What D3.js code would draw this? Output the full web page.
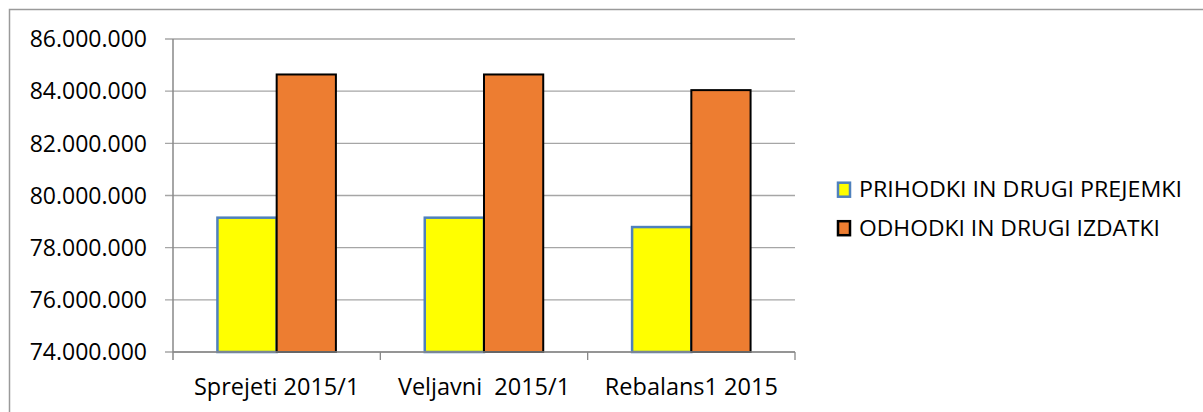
<!DOCTYPE html>
<html>
<head>
<meta charset="utf-8">
<script src="https://cdn.jsdelivr.net/npm/d3@7"></script>
<style>
  html, body { margin: 0; padding: 0; background: #fff; }
  svg { display: block; }
  text { font-family: "Open Sans", "Noto Sans", sans-serif; fill: #000; }
</style>
</head>
<body>
<svg id="chart" width="1203" height="412"></svg>
<script>
const categories = ["Sprejeti 2015/1", "Veljavni  2015/1", "Rebalans1 2015"];
const seriesNames = ["PRIHODKI IN DRUGI PREJEMKI", "ODHODKI IN DRUGI IZDATKI"];
const prihodki = [79150000, 79150000, 78790000];
const odhodki = [84640000, 84640000, 84040000];
const yTicks = [74000000, 76000000, 78000000, 80000000, 82000000, 84000000, 86000000];

const fills = ["#FFFF00", "#ED7D31"];
const strokes = ["#4F81BD", "#000000"];

const svg = d3.select("#chart");
const plot = { left: 173, right: 795, top: 39, bottom: 352 };

// outer frame (left + top)
svg.append("path")
  .attr("d", "M9.5,412 L9.5,9.5 L1203,9.5")
  .attr("fill", "none").attr("stroke", "#9a9a9a").attr("stroke-width", 1.5);

const x = d3.scaleBand().domain(categories).range([plot.left, plot.right]).paddingInner(0).paddingOuter(0);
const y = d3.scaleLinear().domain([74000000, 86000000]).range([plot.bottom, plot.top]);

const fmt = v => d3.format(",")(v).replace(/,/g, ".");

// gridlines + y tick marks
svg.append("g").selectAll("line").data(yTicks).join("line")
  .attr("x1", plot.left - 8).attr("x2", plot.right)
  .attr("y1", d => y(d)).attr("y2", d => y(d))
  .attr("stroke", "#a6a6a6").attr("stroke-width", 1.3);

// y tick labels
svg.append("g").selectAll("text").data(yTicks).join("text")
  .attr("x", 147).attr("y", d => y(d) + 8.3)
  .attr("text-anchor", "end")
  .style("font-size", "23px")
  .text(fmt);

// bars
const barW = x.bandwidth() / 3.5;
const off = (x.bandwidth() - 2 * barW) / 2;
const series = [prihodki, odhodki];
series.forEach((vals, si) => {
  svg.append("g").selectAll("rect").data(vals).join("rect")
    .attr("x", (d, i) => x(categories[i]) + off + si * barW)
    .attr("y", d => y(d))
    .attr("width", barW)
    .attr("height", d => y.range()[0] - y(d))
    .attr("fill", fills[si])
    .attr("stroke", strokes[si])
    .attr("stroke-width", si === 0 ? 2.5 : 2);
});

// x axis line and category ticks
svg.append("line")
  .attr("x1", plot.left).attr("x2", plot.right)
  .attr("y1", plot.bottom).attr("y2", plot.bottom)
  .attr("stroke", "#888").attr("stroke-width", 1.3);
svg.append("line")
  .attr("x1", plot.left).attr("x2", plot.left)
  .attr("y1", plot.top).attr("y2", plot.bottom + 8)
  .attr("stroke", "#888").attr("stroke-width", 1.5);
const bounds = categories.map(c => x(c)).concat([plot.right]);
svg.append("g").selectAll("line").data(bounds.slice(1)).join("line")
  .attr("x1", d => d).attr("x2", d => d)
  .attr("y1", plot.bottom).attr("y2", plot.bottom + 8)
  .attr("stroke", "#888").attr("stroke-width", 1.3);

// category labels
svg.append("g").selectAll("text").data(categories).join("text")
  .attr("x", d => x(d) + x.bandwidth() / 2)
  .attr("y", 395)
  .attr("text-anchor", "middle")
  .style("font-size", "23.5px")
  .style("white-space", "pre")
  .attr("xml:space", "preserve")
  .text(d => d);

// legend
const legY = [189.7, 228.2];
const legW = [323, 301];
const leg = svg.append("g");
seriesNames.forEach((name, i) => {
  leg.append("rect")
    .attr("x", 838).attr("y", legY[i] - 7)
    .attr("width", 12).attr("height", 14)
    .attr("fill", fills[i]).attr("stroke", strokes[i]).attr("stroke-width", 2.5);
  leg.append("text")
    .attr("x", 859).attr("y", legY[i] + 7.3)
    .attr("textLength", legW[i])
    .attr("lengthAdjust", "spacingAndGlyphs")
    .style("font-size", "21px")
    .text(name);
});
</script>
</body>
</html>
